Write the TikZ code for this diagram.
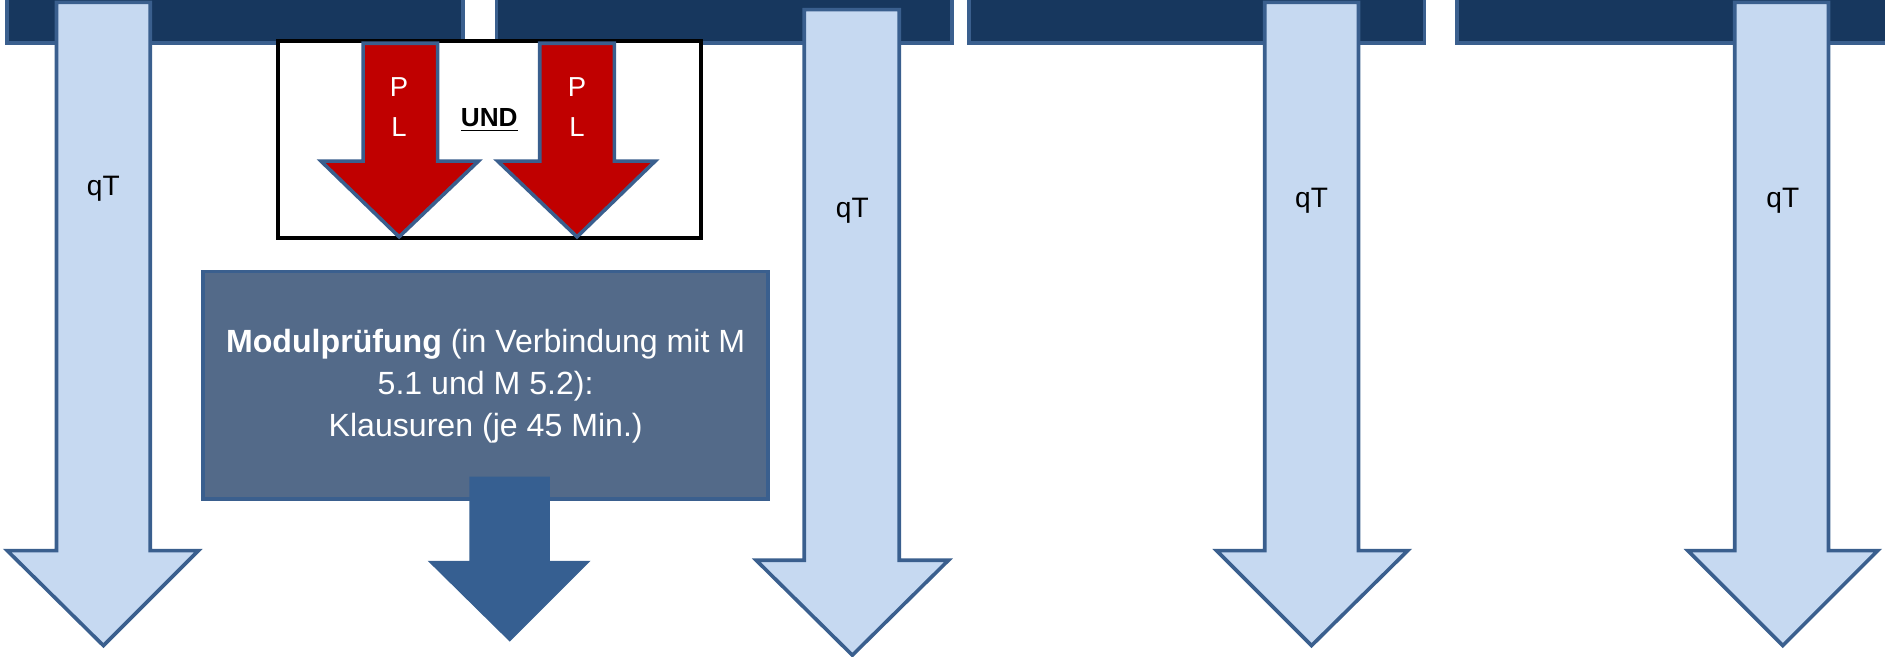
\documentclass[tikz,border=0pt]{standalone}
\usepackage{fontspec}
\setmainfont{Liberation Sans}
\definecolor{barfill}{HTML}{17375E}
\definecolor{edgeblue}{HTML}{3A5F8E}
\definecolor{lightfill}{HTML}{C6D9F1}
\definecolor{plred}{HTML}{C00000}
\definecolor{modfill}{HTML}{536A89}
\definecolor{darkarrow}{HTML}{365F91}
\tikzset{
  topbar/.style={draw=edgeblue, fill=barfill, line width=0.06cm},
  lightarr/.style={draw=edgeblue, fill=lightfill, line width=0.06cm},
  redarr/.style={draw=edgeblue, fill=plred, line width=0.06cm},
  darkarr/.style={draw=darkarrow, fill=darkarrow, line width=0.02cm},
  plbox/.style={draw=black, fill=white, line width=0.06cm},
  modbox/.style={draw=edgeblue, fill=modfill, line width=0.06cm},
  qtlabel/.style={font=\fontsize{13.3}{15}\selectfont, text=black, inner sep=0pt},
  pllabel/.style={font=\fontsize{13}{18.8}\selectfont, text=white, align=center, inner sep=0pt},
}
\begin{document}
\begin{tikzpicture}[x=0.02cm, y=-0.02cm]
\useasboundingbox (0,0) rectangle (1568,546);
\clip (0,0) rectangle (1568,546);
% top bars
\draw[topbar] (6,-20) rectangle (385,36);
\draw[topbar] (413,-20) rectangle (792,36);
\draw[topbar] (806,-20) rectangle (1185,36);
\draw[topbar] (1212,-20) rectangle (1600,36);
% light blue arrows
\draw[lightarr] (47,2) -- (125,2) -- (125,458) -- (165,458) -- (86,537) -- (6,458) -- (47,458) -- cycle;
\draw[lightarr] (669,8) -- (748,8) -- (748,466) -- (789,466) -- (709,545) -- (629,466) -- (669,466) -- cycle;
\draw[lightarr] (1052,2) -- (1130,2) -- (1130,458) -- (1171,458) -- (1091,537) -- (1012,458) -- (1052,458) -- cycle;
\draw[lightarr] (1443,2) -- (1521,2) -- (1521,458) -- (1562,458) -- (1483,537) -- (1404,458) -- (1443,458) -- cycle;
\node[qtlabel] (qt1) at (86,157) {qT};
\node[qtlabel] (qt2) at (709,175) {qT};
\node[qtlabel] (qt3) at (1091,167) {qT};
\node[qtlabel] (qt4) at (1483,167) {qT};
% PL box
\draw[plbox] (231,34) rectangle (583,198);
\draw[redarr] (302,36) -- (364,36) -- (364,134) -- (398,134) -- (332,197) -- (267,134) -- (302,134) -- cycle;
\draw[redarr] (449,36) -- (511,36) -- (511,134) -- (545,134) -- (480,197) -- (414,134) -- (449,134) -- cycle;
\node[pllabel] (pl1) at (332,89) {P\\L};
\node[pllabel] (pl2) at (480,89) {P\\L};
\node[font=\fontsize{12.4}{14}\selectfont\bfseries, inner sep=0pt] (und) at (407,100) {\underline{UND}};
% Modulpruefung box
\draw[modbox] (169,226) rectangle (639,415);
\draw[darkarr] (391,397) -- (457,397) -- (457,467) -- (490,467) -- (424,533) -- (357,467) -- (391,467) -- cycle;
\node[font=\fontsize{15.2}{19.9}\selectfont, text=white, align=center, inner sep=0pt] (mod) at (404,321)
  {\textbf{Modulprüfung} (in Verbindung mit M\\5.1 und M 5.2):\\Klausuren (je 45 Min.)};
\end{tikzpicture}
\end{document}
